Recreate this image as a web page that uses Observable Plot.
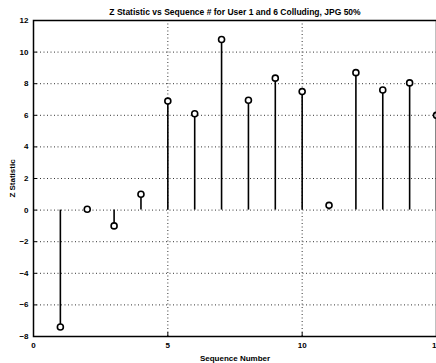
<!DOCTYPE html>
<html>
<head>
<meta charset="utf-8">
<script src="https://cdn.jsdelivr.net/npm/d3@7"></script>
<script src="https://cdn.jsdelivr.net/npm/@observablehq/plot@0.6"></script>
<style>
  html, body { margin: 0; padding: 0; background: #fff; overflow: hidden; }
  svg { display: block; }
</style>
</head>
<body>
<div id="chart"></div>
<script>
const title = "Z Statistic vs Sequence # for User 1 and 6 Colluding, JPG 50%";
const xLabel = "Sequence Number";
const yLabel = "Z Statistic";
const sequence = [1, 2, 3, 4, 5, 6, 7, 8, 9, 10, 11, 12, 13, 14, 15];
const zStat = [-7.4, 0.05, -1.0, 1.0, 6.9, 6.1, 10.8, 6.95, 8.35, 7.5, 0.3, 8.7, 7.6, 8.05, 6.0];
const xTicks = [0, 5, 10, 15];
const yTicks = [-8, -6, -4, -2, 0, 2, 4, 6, 8, 10, 12];

const data = sequence.map((s, i) => ({ s, z: zStat[i] }));
const font = "Liberation Sans, Arial, sans-serif";

const chart = Plot.plot({
  width: 436,
  height: 363,
  marginLeft: 33,
  marginRight: 0,
  marginTop: 20,
  marginBottom: 27,
  style: { fontFamily: font, fontSize: "8px", fontWeight: "bold", color: "black", background: "white", overflow: "visible" },
  x: { domain: [0, 15] },
  y: { domain: [-8, 12] },
  marks: [
    Plot.gridX(xTicks.slice(1, -1), { stroke: "black", strokeOpacity: 0.8, strokeDasharray: "1,2.5", strokeWidth: 1 }),
    Plot.gridY(yTicks.slice(1, -1), { stroke: "black", strokeOpacity: 0.8, strokeDasharray: "1,2.5", strokeWidth: 1 }),
    Plot.axisX(xTicks, { tickSize: -4, tickPadding: 10, label: xLabel, labelAnchor: "center", labelArrow: "none", labelOffset: 24, fontWeight: "bold" }),
    Plot.axisY(yTicks, { tickSize: -4, tickPadding: 9, label: yLabel, labelAnchor: "center", labelArrow: "none", labelOffset: 24, fontWeight: "bold" }),
    Plot.ruleX(data, { x: "s", y1: 0, y2: "z", stroke: "black", strokeWidth: 1.6 }),
    Plot.dot(data, { x: "s", y: "z", r: 3, stroke: "black", strokeWidth: 1.6, fill: "white" }),
    Plot.frame({ stroke: "black", strokeWidth: 1.5 }),
    Plot.text([title], { frameAnchor: "top", dy: -12, fontSize: 8.5, fontWeight: "bold", fill: "black" })
  ]
});
document.getElementById("chart").appendChild(chart);
</script>
</body>
</html>
